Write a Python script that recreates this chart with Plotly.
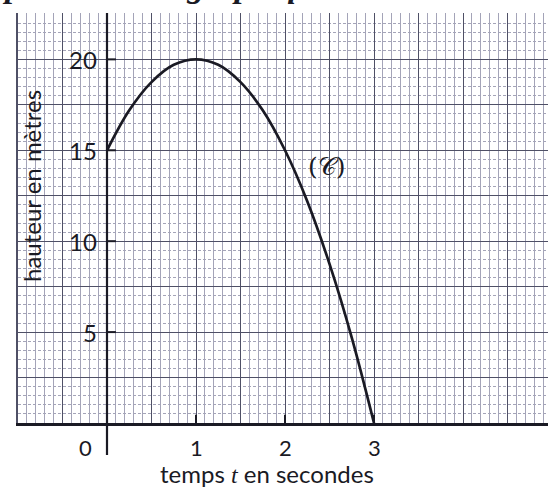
import plotly.graph_objects as go

# Height of the ball (m) against time (s), read at quarter-second steps
t_values = [0, 0.25, 0.5, 0.75, 1, 1.25, 1.5, 1.75, 2, 2.25, 2.5, 2.75, 3]
h_values = [15, 17.2, 18.75, 19.7, 20, 19.7, 18.75, 17.2, 15, 12.2, 8.75, 4.7, 0]

x_tick_vals = [0, 1, 2, 3]
x_tick_text = ["0", "1", "2", "3"]
y_tick_vals = [5, 10, 15, 20]
y_tick_text = ["5", "10", "15", "20"]

curve_label = "(𝒞)"
curve_label_pos = (2.47, 14.1)

x_range = [-1, 4.955]
y_range = [0, 22.55]

INK = "#1a1a24"
MAJOR = "#4f5066"
MINOR = "#a4a4b8"
FONT = "Lato"

fig = go.Figure()
fig.add_trace(go.Scatter(
    x=t_values, y=h_values, mode="lines",
    line=dict(color=INK, width=2.7, shape="spline", smoothing=1.0),
    hoverinfo="skip", showlegend=False,
))

fig.update_xaxes(
    range=x_range, tick0=0, dtick=0.5,
    showgrid=True, gridcolor=MAJOR, gridwidth=1.3,
    minor=dict(tick0=0, dtick=0.1, showgrid=True, gridcolor=MINOR,
               gridwidth=0.9, griddash="solid"),
    showticklabels=False, ticks="", zeroline=False,
    showline=True, linecolor=INK, linewidth=2.5,
)
fig.update_yaxes(
    range=y_range, tick0=0, dtick=2.5,
    showgrid=True, gridcolor=MAJOR, gridwidth=1.3,
    minor=dict(tick0=0, dtick=0.5, showgrid=True, gridcolor=MINOR,
               gridwidth=0.9, griddash="3px,2px"),
    showticklabels=False, ticks="", zeroline=False,
    showline=True, linecolor=MAJOR, linewidth=1.5,
)

shapes = []
# vertical axis at t = 0, running a little below the paper
shapes.append(dict(type="line", xref="x", yref="paper", x0=0, x1=0,
                   y0=-0.078, y1=1, line=dict(color=INK, width=2.2)))
for v in y_tick_vals:
    shapes.append(dict(type="line", xref="x", yref="y", x0=0, x1=0.1,
                       y0=v, y1=v, line=dict(color=INK, width=2)))
for v in x_tick_vals[1:]:
    shapes.append(dict(type="line", xref="x", yref="y", x0=v, x1=v,
                       y0=0, y1=0.45, line=dict(color=INK, width=2)))

annotations = []
for v, s in zip(y_tick_vals, y_tick_text):
    annotations.append(dict(x=0, y=v, xref="x", yref="y", text=s,
                            showarrow=False, xanchor="right", yanchor="middle",
                            xshift=-8, font=dict(family=FONT, size=24, color=INK)))
for v, s in zip(x_tick_vals, x_tick_text):
    annotations.append(dict(x=v, y=0, xref="x", yref="y", text=s,
                            showarrow=False, borderpad=0,
                            xanchor="right" if v == 0 else "center",
                            xshift=-14 if v == 0 else 0,
                            yanchor="top", yshift=-10,
                            font=dict(family=FONT, size=22, color=INK)))

annotations.append(dict(
    x=0.47, y=-0.1232, xref="paper", yref="paper", borderpad=0,
    text="temps <span style='font-family:Liberation Serif'><i>t</i></span> en secondes",
    showarrow=False, xanchor="center", yanchor="middle",
    font=dict(family=FONT, size=24, color=INK)))
annotations.append(dict(
    x=0.0245, y=0.578, xref="paper", yref="paper", text="hauteur en mètres",
    textangle=-90, showarrow=False, xanchor="center", yanchor="middle",
    font=dict(family=FONT, size=24, color=INK)))
annotations.append(dict(
    x=curve_label_pos[0], y=curve_label_pos[1], xref="x", yref="y",
    text=curve_label, showarrow=False,
    font=dict(family="DejaVu Serif", size=25, color=INK)))
annotations.append(dict(
    x=-0.081, y=1, xref="paper", yref="paper",
    text="<b><i>représentation graphique</i></b>",
    showarrow=False, xanchor="left", yanchor="bottom", yshift=7,
    font=dict(family="Liberation Serif", size=34, color=INK)))

fig.update_layout(
    width=548, height=488, autosize=False,
    margin=dict(l=18, r=0, t=13, b=65),
    paper_bgcolor="white", plot_bgcolor="white",
    shapes=shapes, annotations=annotations,
)

fig.write_html("out.html")
